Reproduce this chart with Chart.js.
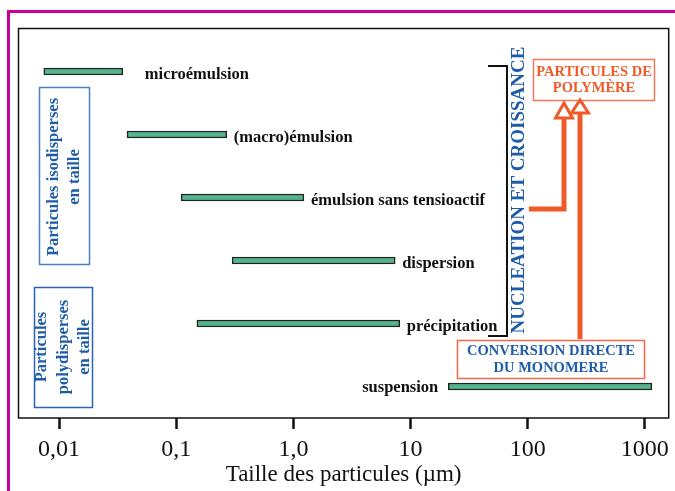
<!DOCTYPE html>
<html>
<head>
<meta charset="utf-8">
<script src="https://cdn.jsdelivr.net/npm/chart.js@4.4.0/dist/chart.umd.min.js"></script>
<style>
  body { margin: 0; background: #fff; }
  #chart { display: block; }
</style>
</head>
<body>
<canvas id="chart" width="675" height="491"></canvas>
<script>
// procedes de polymerisation et taille des particules (µm)
const categories = ['microémulsion', '(macro)émulsion', 'émulsion sans tensioactif', 'dispersion', 'précipitation', 'suspension'];
const sizeMin = [0.0074, 0.038, 0.11, 0.30, 0.15, 21];
const sizeMax = [0.035, 0.27, 1.23, 7.4, 8.1, 1150];
const tickValues = [0.01, 0.1, 1, 10, 100, 1000];
const tickLabels = ['0,01', '0,1', '1,0', '10', '100', '1000'];

const serif = 'Liberation Serif';
const blue = '#1f5ca8';
const orange = '#f05a28';

function vText(ctx, lines, cx, cy, gap) {
    ctx.save();
    ctx.translate(cx, cy);
    ctx.rotate(-Math.PI / 2);
    ctx.textAlign = 'center';
    ctx.textBaseline = 'middle';
    lines.forEach((l, i) => {
        ctx.fillText(l, 0, (i - (lines.length - 1) / 2) * gap);
    });
    ctx.restore();
}

function head(ctx, x, tipY, baseY, half) {
    ctx.beginPath();
    ctx.moveTo(x, tipY);
    ctx.lineTo(x - half, baseY);
    ctx.lineTo(x + half, baseY);
    ctx.closePath();
    ctx.fillStyle = '#fff';
    ctx.fill();
    ctx.lineWidth = 3;
    ctx.strokeStyle = orange;
    ctx.stroke();
}

const decor = {
    id: 'decor',
    beforeDraw(chart) {
        const ctx = chart.ctx;
        ctx.save();
        ctx.fillStyle = '#fff';
        ctx.fillRect(0, 0, chart.width, chart.height);
        // cadre magenta
        ctx.fillStyle = '#cc0099';
        ctx.fillRect(7, 10, chart.width - 7, 3);
        ctx.fillRect(7, 10, 3, chart.height - 10);
        // cadre du graphe
        const a = chart.chartArea;
        ctx.strokeStyle = '#111';
        ctx.lineWidth = 1.5;
        ctx.strokeRect(a.left, 28.5, a.right - a.left, a.bottom - 28.5);
        ctx.restore();
    },
    afterDraw(chart) {
        const ctx = chart.ctx;
        const meta = chart.getDatasetMeta(0);
        ctx.save();

        // etiquettes des barres
        ctx.font = 'bold 16.5px ' + serif;
        ctx.fillStyle = '#111';
        ctx.textBaseline = 'middle';
        meta.data.forEach((bar, i) => {
            const left = Math.min(bar.x, bar.base);
            const right = Math.max(bar.x, bar.base);
            if (i === categories.length - 1) {
                ctx.textAlign = 'right';
                ctx.fillText(categories[i], left - 10, bar.y + 1);
            } else {
                ctx.textAlign = 'left';
                ctx.fillText(categories[i], right + (i === 0 ? 22 : 7), bar.y + 3);
            }
        });

        // boites bleues
        ctx.lineWidth = 1.5;
        ctx.strokeStyle = '#4a80c8';
        ctx.strokeRect(39.5, 87.5, 50, 177);
        ctx.strokeStyle = '#2a64b4';
        ctx.strokeRect(34.5, 287.5, 58, 120);
        ctx.fillStyle = blue;
        ctx.font = 'bold 16.5px ' + serif;
        vText(ctx, ['Particules isodisperses', 'en taille'], 64.5, 177, 21);
        vText(ctx, ['Particules', 'polydisperses', 'en taille'], 63.5, 347, 21.5);

        // accolade nucleation
        ctx.strokeStyle = '#111';
        ctx.lineWidth = 2;
        ctx.beginPath();
        ctx.moveTo(488, 66);
        ctx.lineTo(507, 66);
        ctx.lineTo(507, 336);
        ctx.lineTo(488, 336);
        ctx.stroke();
        ctx.font = 'bold 19px ' + serif;
        ctx.fillStyle = blue;
        vText(ctx, ['NUCLEATION ET CROISSANCE'], 519, 190, 0);

        // particules de polymere
        ctx.strokeStyle = '#f07a5a';
        ctx.lineWidth = 1.5;
        ctx.strokeRect(533.5, 59.5, 121, 41);
        ctx.fillStyle = orange;
        ctx.font = 'bold 14.5px ' + serif;
        ctx.textAlign = 'center';
        ctx.textBaseline = 'middle';
        ctx.fillText('PARTICULES DE', 594, 72);
        ctx.fillText('POLYMÈRE', 594, 88);

        // conversion directe
        ctx.strokeStyle = '#f06a4a';
        ctx.strokeRect(457.5, 340.5, 187, 38);
        ctx.fillStyle = blue;
        ctx.font = 'bold 14.5px ' + serif;
        ctx.fillText('CONVERSION DIRECTE', 551, 351.5);
        ctx.fillText('DU MONOMERE', 551, 368);

        // fleches
        ctx.strokeStyle = orange;
        ctx.lineWidth = 5;
        ctx.beginPath();
        ctx.moveTo(529, 209);
        ctx.lineTo(564, 209);
        ctx.lineTo(564, 118);
        ctx.stroke();
        ctx.beginPath();
        ctx.moveTo(580, 339);
        ctx.lineTo(580, 113);
        ctx.stroke();
        head(ctx, 564, 103, 118, 8.5);
        head(ctx, 580, 100, 113, 8.5);

        ctx.restore();
    }
};

const ranges = sizeMin.map((v, i) => [v, sizeMax[i]]);

new Chart(document.getElementById('chart'), {
    type: 'bar',
    data: {
        labels: categories,
        datasets: [{
            data: ranges,
            backgroundColor: '#52b68c',
            borderColor: '#222',
            borderWidth: 1.5,
            borderSkipped: false,
            barThickness: 7
        }]
    },
    options: {
        indexAxis: 'y',
        responsive: false,
        animation: false,
        devicePixelRatio: 1,
        layout: { padding: { left: 18.5, right: 6, top: 40, bottom: 0 } },
        plugins: { legend: { display: false }, tooltip: { enabled: false } },
        scales: {
            x: {
                type: 'logarithmic',
                min: 0.0045,
                max: 1600,
                afterBuildTicks: s => { s.ticks = tickValues.map(v => ({ value: v })); },
                afterFit: s => { s.height = 73; },
                grid: { drawOnChartArea: false, drawTicks: true, tickLength: 11, tickWidth: 2.5, tickColor: '#111' },
                border: { display: false },
                ticks: {
                    callback: (v, i) => tickLabels[i],
                    font: { family: serif, size: 24 },
                    color: '#111',
                    padding: 6,
                    maxRotation: 0,
                    autoSkip: false
                },
                title: {
                    display: true,
                    text: 'Taille des particules (µm)',
                    font: { family: serif, size: 23 },
                    color: '#111',
                    padding: { top: 0, bottom: 2 }
                }
            },
            y: {
                type: 'category',
                display: false,
                offset: true,
                grid: { display: false }
            }
        }
    },
    plugins: [decor]
});
</script>
</body>
</html>
